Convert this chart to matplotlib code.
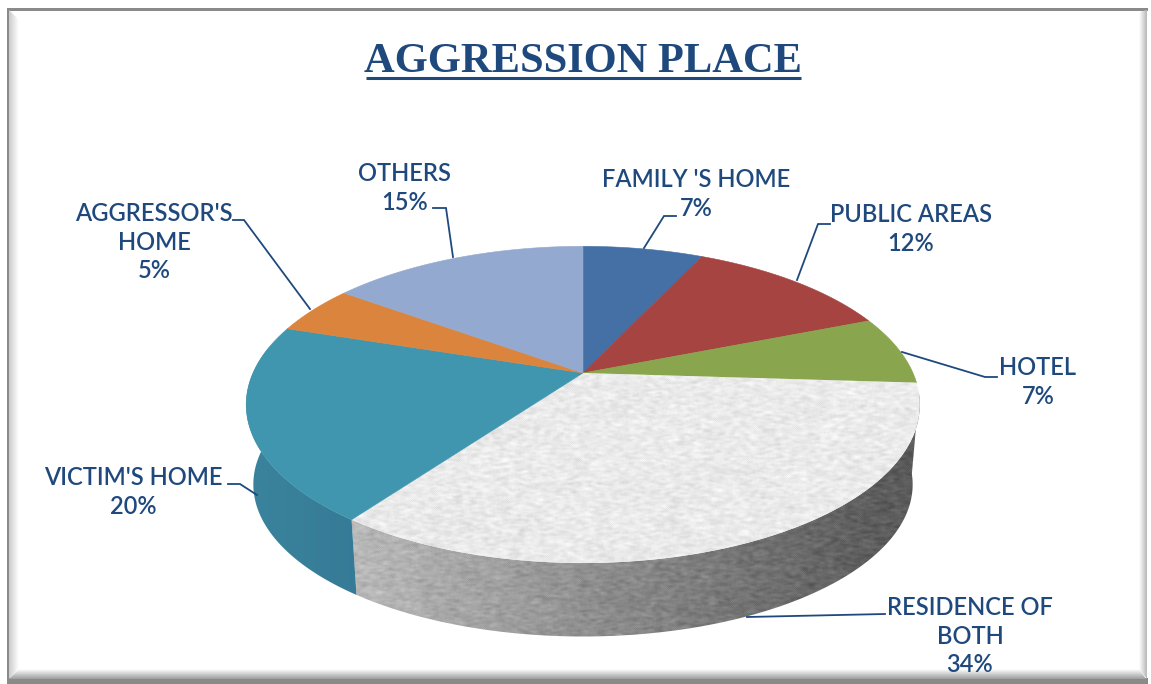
import numpy as np
import matplotlib
matplotlib.use('Agg')
import matplotlib.pyplot as plt
from matplotlib.patches import Polygon

# data
places = ["FAMILY 'S HOME", "PUBLIC AREAS", "HOTEL", "RESIDENCE OF\nBOTH",
          "VICTIM'S HOME", "AGGRESSOR'S\nHOME", "OTHERS"]
shares = [7, 12, 7, 34, 20, 5, 15]
colors = ['#4470a6', '#a54441', '#89a54e', '#e8e8e6', '#4096ae', '#db843d', '#93a9cf']

# label anchor (centre of the text block) and leader line, in pixels
label_xy = [(696, 194), (911, 229), (1038, 382), (970, 636), (133, 492), (154, 242), (405, 188)]
leaders = [[(644, 248), (664, 216), (676, 216)],
           [(797, 280), (818, 224), (830, 224)],
           [(902, 352), (985, 377), (997, 377)],
           [(747, 617), (885, 614)],
           [(257, 495), (240, 484), (228, 484)],
           [(310, 309), (244, 220), (233, 220)],
           [(453, 257), (446, 208), (433, 208)]]

navy = '#1f497d'
cx, cy = 583, 373
k = 0.2


def rim(deg, a, b, y0):
    # point on the pie edge, clockwise from 12 o'clock, with a bit of perspective
    t = np.radians(deg)
    w = 1 + k * np.cos(t)
    return cx + a * np.sin(t) / w, y0 - b * np.cos(t) / w


def top(deg):
    return rim(deg, 330, 152, cy)


def bottom(deg):
    return rim(deg, 323, 146, cy + 81)


def speckle(h, w, seed):
    # deterministic grain for the stone texture, slightly stretched sideways
    yy, xx = np.mgrid[0:h, 0:w]
    n = np.sin(xx * 12.9898 + yy * 78.233 + seed) * 43758.5453
    n = n - np.floor(n)
    for i in range(2):
        n = (n + np.roll(n, 1, 0) + np.roll(n, 1, 1) + np.roll(n, -1, 0) + np.roll(n, -1, 1)) / 5
    n = (n + np.roll(n, 2, 1) + np.roll(n, -2, 1)) / 3
    return (n - n.mean()) / n.std()


def paint(ax, arr, extent, poly, cmap='gray', vmin=0, vmax=1, z=2):
    im = ax.imshow(arr, extent=extent, cmap=cmap, vmin=vmin, vmax=vmax, aspect='auto',
                   interpolation='bilinear', zorder=z)
    im.set_clip_path(Polygon(poly, closed=True, transform=ax.transData))


fig = plt.figure(figsize=(11.51, 6.84), dpi=100)
ax = fig.add_axes([0, 0, 1, 1])
ax.set_xlim(0, 1151)
ax.set_ylim(684, 0)
ax.axis('off')

# frame
ax.fill([7, 1148, 1148, 7], [8, 8, 684, 684], color='#8a8a8a', lw=0, zorder=0)
ax.fill([10, 1151, 1151, 10], [11, 11, 678, 678], color='white', lw=0, zorder=0)
ax.fill([1148, 1151, 1151, 1148], [8, 8, 684, 684], color='white', lw=0, zorder=0)
ax.fill([0, 7, 7, 0], [0, 0, 684, 684], color='white', lw=0, zorder=0)
grad = np.linspace(0.8, 1, 40).reshape(1, -1)
paint(ax, grad, (9, 19, 684, 0), [(9, 10), (19, 20), (19, 668), (9, 679)], z=1)
grad = np.linspace(1, 0.62, 40).reshape(-1, 1)
paint(ax, grad, (0, 1151, 679, 669), [(9, 679), (19, 669), (1139, 669), (1146, 679)], z=1)
grad = np.linspace(1, 0.72, 40).reshape(1, -1)
paint(ax, grad, (1139, 1147, 684, 0), [(1139, 12), (1147, 10), (1147, 679), (1139, 669)], z=1)

# title
ax.text(583.5, 62, 'AGGRESSION PLACE', family='Liberation Serif', weight='bold', fontsize=30.6,
        color=navy, ha='center', va='center', zorder=5)
ax.plot([366, 801], [78, 78], color=navy, lw=2.2, solid_capstyle='butt', zorder=5)

edges = np.cumsum([0] + shares) * 3.6
H, W = 684, 1151
grain = speckle(H, W, 1.0)

# side walls, only the two front slices show one
for i in [3, 4]:
    a0, a1 = edges[i], edges[i + 1]
    if i == 3:
        a0 = a0 + 4
    if i == 4:
        a1 = 280
    d = np.linspace(a0, a1, 120)
    pts = [top(v) for v in d] + [bottom(v) for v in d[::-1]]
    if i == 3:
        shade = 0.36 + 0.36 * np.clip((880 - np.linspace(0, W, W)) / 520, 0, 1)
        arr = np.clip(shade[None, :] + grain * 0.022, 0, 1)
        paint(ax, arr, (0, W, H, 0), pts, z=2)
    else:
        ramp = np.clip((np.linspace(0, W, W) - 250) / 110, 0, 1)
        base = np.array([0.23, 0.515, 0.615])
        dark = np.array([0.21, 0.48, 0.59])
        arr = base[None, None, :] + (dark - base)[None, None, :] * ramp[None, :, None]
        arr = np.repeat(arr, 2, axis=0)
        paint(ax, arr, (0, W, H, 0), pts, z=2)

# top faces
for i, share in enumerate(shares):
    d = np.linspace(edges[i], edges[i + 1], 100)
    pts = [(cx, cy)] + [top(v) for v in d]
    if i == 3:
        arr = np.clip(0.915 + grain * 0.02, 0, 1)
        paint(ax, arr, (0, W, H, 0), pts, z=3)
    else:
        ax.add_patch(Polygon(pts, closed=True, fc=colors[i], ec=colors[i], lw=0.4, zorder=3))

# labels and leaders
for i, share in enumerate(shares):
    xy = np.array(leaders[i])
    ax.plot(xy[:, 0], xy[:, 1], color=navy, lw=1.3, zorder=6, solid_joinstyle='miter')
    ax.text(label_xy[i][0], label_xy[i][1], places[i] + '\n' + str(share) + '%',
            family='Lato', weight='semibold', fontsize=17, color=navy, ha='center', va='center',
            linespacing=1.3, zorder=7)

fig.savefig('out.png', dpi=100)
